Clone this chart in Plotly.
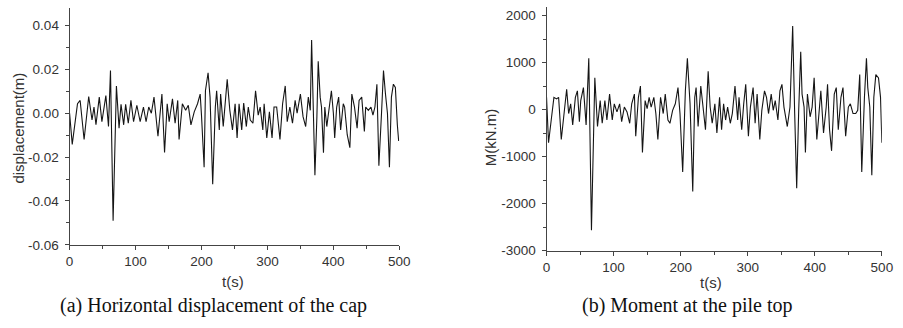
import plotly.graph_objects as go

# (a) Horizontal displacement of the cap
t_disp = [0, 4, 12, 16, 22, 29, 34, 37, 40, 45, 49, 55, 59, 62, 66, 71, 75, 78, 82, 85,
          89, 93, 97, 102, 107, 112, 116, 120, 124, 128, 134, 140, 144, 148, 151, 156, 160,
          164, 166, 171, 176, 180, 184, 189, 194, 198, 200, 204, 206, 210, 213, 215, 217,
          221, 223, 227, 229, 233, 236, 239, 243, 247, 251, 254, 257, 261, 264, 268, 271,
          274, 278, 282, 286, 289, 293, 295, 299, 303, 307, 310, 314, 319, 323, 327, 330,
          334, 338, 342, 345, 350, 354, 358, 362, 365, 367, 370, 372, 375, 377, 380, 382,
          385, 387, 390, 393, 397, 400, 402, 405, 408, 411, 415, 417, 421, 425, 428, 432,
          436, 439, 443, 447, 449, 453, 457, 460, 463, 466, 469, 473, 476, 479, 482, 485,
          488, 491, 494, 497, 499]
disp = [0.0, -0.0142, 0.0043, 0.0058, -0.012, 0.0076, -0.0031, 0.0028, -0.0053, 0.0073,
        -0.0039, 0.008, -0.0061, 0.0194, -0.049, 0.0124, -0.0068, 0.004, -0.0053, 0.004,
        -0.0046, 0.0058, -0.0039, 0.0036, -0.0039, 0.0028, -0.0039, 0.0028, 0.0, 0.0073,
        -0.0105, 0.0087, -0.0179, 0.0043, -0.0039, 0.0065, -0.0046, 0.0058, -0.012, 0.0043,
        0.0013, 0.0036, -0.0053, 0.0006, 0.0043, 0.0087, -0.0009, -0.0246, 0.0102, 0.0184,
        0.0073, -0.018, -0.0324, 0.0028, 0.0102, -0.0076, 0.0087, -0.0061, 0.0043, 0.0154,
        0.0013, -0.0076, 0.0043, -0.0113, 0.0043, -0.0076, 0.0046, -0.0061, 0.0028, -0.0031,
        -0.0046, 0.0102, -0.0009, 0.0028, -0.0076, 0.0043, -0.0113, 0.0006, -0.0113, 0.0028,
        0.0028, -0.012, 0.0043, 0.0124, -0.0039, 0.0028, -0.0046, 0.0058, 0.0, 0.0087,
        -0.0016, -0.0061, 0.0073, 0.0013, 0.0333, 0.0, -0.0283, -0.0016, 0.0236, 0.0073,
        0.0028, -0.018, 0.0028, -0.0061, 0.0013, 0.0102, 0.0, -0.0113, 0.0028, 0.0073,
        -0.0076, 0.0043, 0.0028, -0.0098, -0.0157, 0.0087, 0.0028, -0.0068, 0.0058, 0.0073,
        -0.0083, 0.0028, 0.0013, 0.0028, -0.0009, 0.0028, 0.0132, -0.0239, 0.0, 0.0194,
        0.0087, 0.0, -0.0246, 0.0073, 0.0132, 0.0117, -0.0053, -0.0127]

# (b) Moment at the pile top
t_mom = [0, 3, 7, 11, 15, 18, 22, 26, 30, 33, 36, 39, 43, 46, 49, 51, 55, 59, 63, 67,
         72, 76, 80, 83, 87, 90, 94, 98, 101, 105, 109, 112, 116, 120, 124, 127, 131, 133,
         137, 140, 143, 147, 150, 153, 156, 160, 163, 166, 170, 174, 177, 181, 184, 188,
         192, 196, 199, 203, 207, 210, 214, 218, 221, 223, 226, 230, 233, 237, 241, 244,
         247, 251, 254, 258, 261, 264, 267, 270, 274, 277, 281, 285, 287, 291, 294, 297,
         301, 304, 308, 311, 314, 318, 321, 325, 328, 331, 335, 338, 341, 345, 348, 351,
         354, 359, 363, 367, 370, 373, 376, 379, 381, 384, 386, 389, 393, 396, 399, 403,
         407, 409, 413, 417, 419, 422, 425, 429, 432, 435, 439, 442, 446, 450, 453, 457,
         461, 464, 467, 470, 474, 477, 479, 482, 485, 488, 491, 495, 498, 500]
moment = [262, -703, -221, 262, 228, 262, -634, -14, 434, -83, 124, -324, 262, 400, -255,
          193, 469, -324, 1090, -2566, 676, -359, 193, -290, 193, -221, 331, -221, 124, -48,
          124, -255, 55, -48, -290, 124, 331, -566, 262, 503, -910, 193, 21, 262, 55, 262,
          -83, -634, 262, -83, 331, -221, -290, -14, 124, 469, -83, -1324, 400, 1090, 124,
          -1738, 262, 469, -359, 503, 55, -428, 814, 55, -290, 124, -497, 262, -428, 124,
          -221, 55, -290, -83, 503, -221, 262, -428, 124, 538, -566, 55, 469, -290, 331,
          -634, -14, 400, 262, -83, 331, -14, 193, -221, 400, 538, 55, -359, 55, 1779, -83,
          -1669, -14, 1228, 331, 55, -910, 331, -152, 55, 676, -634, 55, 400, -497, 55, 538,
          -428, -876, 331, 469, -428, 262, 469, -566, 55, 124, -83, -83, -14, 745, -1324,
          262, 1090, 469, 55, -1393, 262, 745, 676, 262, -703]

disp_ticks = [0.04, 0.02, 0.0, -0.02, -0.04, -0.06]
disp_labels = ["0.04", "0.02", "0.00", "-0.02", "-0.04", "-0.06"]
mom_ticks = [2000, 1000, 0, -1000, -2000, -3000]
mom_labels = ["2000", "1000", "0", "-1000", "-2000", "-3000"]
t_ticks = [0, 100, 200, 300, 400, 500]

W, H = 903, 328
line_col = "#151515"
axis_col = "#444444"
tick_font = dict(family="Liberation Sans, Arial, sans-serif", size=13.5, color="#333333")

fig = go.Figure()
fig.add_trace(go.Scatter(x=t_disp, y=disp, mode="lines",
                         line=dict(color=line_col, width=1.1), xaxis="x", yaxis="y",
                         showlegend=False, hoverinfo="skip"))
fig.add_trace(go.Scatter(x=t_mom, y=moment, mode="lines",
                         line=dict(color=line_col, width=1.1), xaxis="x2", yaxis="y2",
                         showlegend=False, hoverinfo="skip"))

common_axis = dict(showgrid=False, zeroline=False, showline=True, linecolor=axis_col,
                   linewidth=1, ticks="outside", ticklen=4, tickcolor=axis_col,
                   tickfont=tick_font, mirror=False)
minor = dict(ticks="outside", ticklen=3, tickcolor=axis_col, showgrid=False)

fig.update_layout(
    width=W, height=H, autosize=False,
    margin=dict(l=0, r=0, t=0, b=0),
    paper_bgcolor="white", plot_bgcolor="white",
    xaxis=dict(domain=[66.7 / W, 402 / W], range=[0, 500], anchor="y",
               tickvals=t_ticks, minor=dict(dtick=50, **minor), **common_axis),
    yaxis=dict(domain=[1 - 251 / H, 1 - 8 / H], range=[-0.06, 0.048], anchor="x",
               tickvals=disp_ticks, ticktext=disp_labels, ticklabelstandoff=3,
               minor=dict(dtick=0.01, tick0=0, **minor), **common_axis),
    xaxis2=dict(domain=[551.7 / W, 892.7 / W], range=[0, 500], anchor="y2",
                tickvals=t_ticks, minor=dict(dtick=50, **minor), **common_axis),
    yaxis2=dict(domain=[1 - 257 / H, 1 - 7.3 / H], range=[-3000, 2180], anchor="x2",
                tickvals=mom_ticks, ticktext=mom_labels, ticklabelstandoff=3,
                minor=dict(dtick=500, tick0=0, **minor), **common_axis),
)

title_font = dict(family="Liberation Sans, Arial, sans-serif", size=15, color="#333333")
cap_font = dict(family="Liberation Serif, Times New Roman, serif", size=20, color="#111111")

ann = [
    dict(text="displacement(m)", x=15 / W, y=1 - 131 / H, textangle=-90, font=title_font),
    dict(text="t(s)", x=233 / W, y=1 - 289 / H, font=title_font),
    dict(text="M(kN.m)", x=495 / W, y=1 - 141 / H, textangle=-90, font=title_font),
    dict(text="t(s)", x=719 / W, y=1 - 290 / H, font=title_font),
    dict(text="(a) Horizontal displacement of the cap", x=213 / W, y=1 - 313 / H, font=cap_font),
    dict(text="(b) Moment at the pile top", x=694.7 / W, y=1 - 313 / H, font=cap_font),
]
for a in ann:
    a.update(xref="paper", yref="paper", xanchor="center", yanchor="middle",
             showarrow=False)
fig.update_layout(annotations=ann)

fig.write_html("out.html")
